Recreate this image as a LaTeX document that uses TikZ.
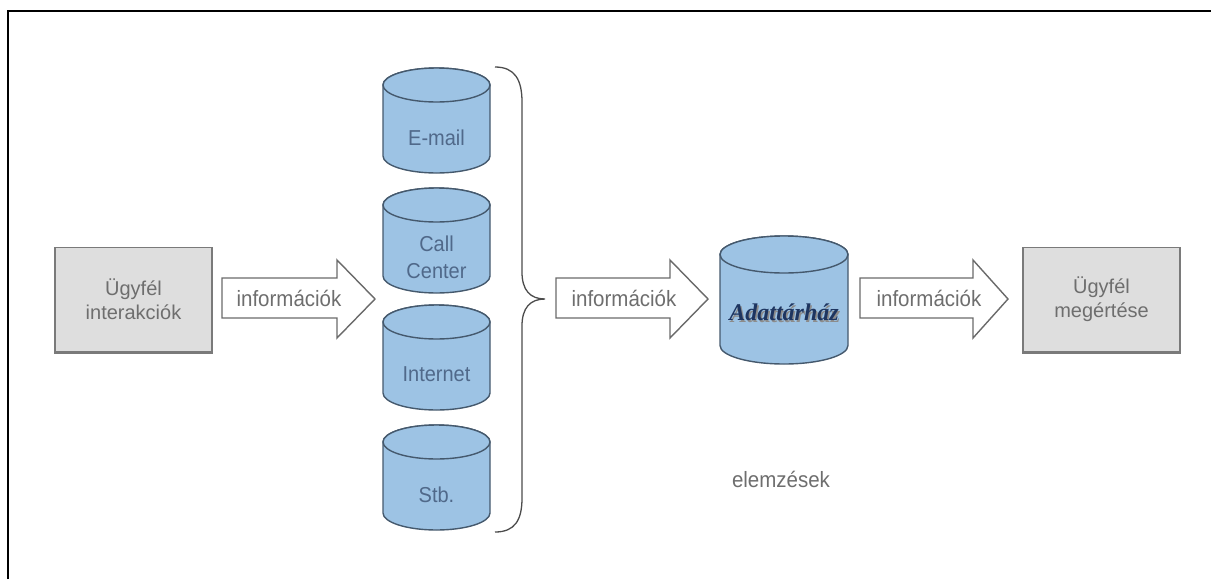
\documentclass[tikz,border=0pt]{standalone}
\usepackage{fontspec}
\setmainfont{Liberation Sans}
\newfontfamily\artfont{Liberation Serif}
\definecolor{cylfill}{HTML}{9DC3E4}
\definecolor{cylline}{HTML}{45596D}
\definecolor{cyltxt}{HTML}{50698A}
\definecolor{boxfill}{HTML}{DEDEDE}
\definecolor{boxline}{HTML}{7A7A7A}
\definecolor{graytxt}{HTML}{6E6E6E}
\definecolor{arrline}{HTML}{6A6A6A}
\definecolor{artblue}{HTML}{1E3560}
\tikzset{
  cylstyle/.style={fill=cylfill, draw=cylline, line width=1.4pt},
  cyltext/.style={text=cyltxt, font=\fontsize{20}{25}\selectfont, align=center, inner sep=0pt, yscale=1.08},
  infobox/.style={fill=boxfill, draw=boxline, line width=1.5pt, minimum width=157pt,
    minimum height=104pt, text=graytxt, font=\fontsize{20}{24}\selectfont, align=center},
  blockarrow/.style={fill=white, draw=arrline, line width=1.4pt, line join=miter},
  arrowtext/.style={text=graytxt, font=\fontsize{20.5}{24}\selectfont, inner sep=0pt, yscale=1.08},
  bracestyle/.style={draw=black!70, line width=1.3pt},
}
% database cylinder: name, left, right, top, bottom, half-height of the lid, label
\newcommand\dbcyl[7]{%
  \pgfmathsetmacro\cylcx{(#2+#3)/2}%
  \pgfmathsetmacro\cylrx{(#3-#2)/2}%
  \filldraw[cylstyle] (#2,#4+#6) -- (#2,#5-#6)
    arc[start angle=180, end angle=360, x radius=\cylrx pt, y radius=#6 pt]
    -- (#3,#4+#6)
    arc[start angle=0, end angle=180, x radius=\cylrx pt, y radius=#6 pt] -- cycle;
  \draw[cylstyle] (\cylcx,#4+#6) ellipse[x radius=\cylrx pt, y radius=#6 pt];
  \node[cyltext] (#1) at (\cylcx,{(#4+2*#6+#5)/2}) {#7};
}
% wide outlined arrow: left end, start of the head, tip
\newcommand\blockarr[3]{%
  \filldraw[blockarrow] (#1,278) -- (#2,278) -- (#2,260) -- (#3,299)
    -- (#2,338) -- (#2,318) -- (#1,318) -- cycle;
}
\begin{document}
\begin{tikzpicture}[x=1pt, y=-1pt]
  \useasboundingbox (0,0) rectangle (1211,579);
  % frame
  \draw[line width=2.8pt] (8,579) -- (8,11) -- (1211,11);

  % customer boxes
  \node[infobox] (interakcio) at (133.5,299.5) {Ügyfél\\interakciók};
  \draw[boxline, line width=2.6pt] (interakcio.south west) -- (interakcio.south east);
  \node[infobox] (megertes) at (1101.5,299.5) {Ügyfél\\megértése};
  \draw[boxline, line width=2.6pt] (megertes.south west) -- (megertes.south east);

  % source databases
  \dbcyl{email}{383}{490}{68}{173}{17}{E-mail}
  \dbcyl{callc}{383}{490}{188}{293}{17}{Call\\Center}
  \dbcyl{inet}{383}{490}{305}{410}{17}{Internet}
  \dbcyl{stb}{383}{490}{425}{530}{17}{Stb.}

  % brace collecting the sources
  \coordinate (bracetip) at (545,299);
  \draw[bracestyle] (495,67) .. controls (515,67) and (522,80) .. (522,102)
    -- (522,272) .. controls (522,290) and (530,299) .. (bracetip)
    .. controls (530,299) and (522,308) .. (522,326)
    -- (522,498) .. controls (522,520) and (515,532) .. (495,532);

  % data warehouse
  \dbcyl{dw}{720}{848}{236}{364}{18.5}{}
  \node[text=black!45, font=\artfont\bfseries\itshape\fontsize{24}{24}\selectfont, inner sep=0pt]
    (dwshadow) at (785.5,314) {Adattárház};
  \node[text=artblue, font=\artfont\bfseries\itshape\fontsize{24}{24}\selectfont, inner sep=0pt]
    (dwlabel) at (784,312) {Adattárház};

  % information flows
  \blockarr{222}{337}{375}
  \node[arrowtext] (info1) at (289,298) {információk};
  \blockarr{556}{670}{708}
  \node[arrowtext] (info2) at (624,298) {információk};
  \blockarr{860}{973}{1008}
  \node[arrowtext] (info3) at (929,298) {információk};

  \node[arrowtext] (elemzes) at (781,479) {elemzések};
\end{tikzpicture}
\end{document}
